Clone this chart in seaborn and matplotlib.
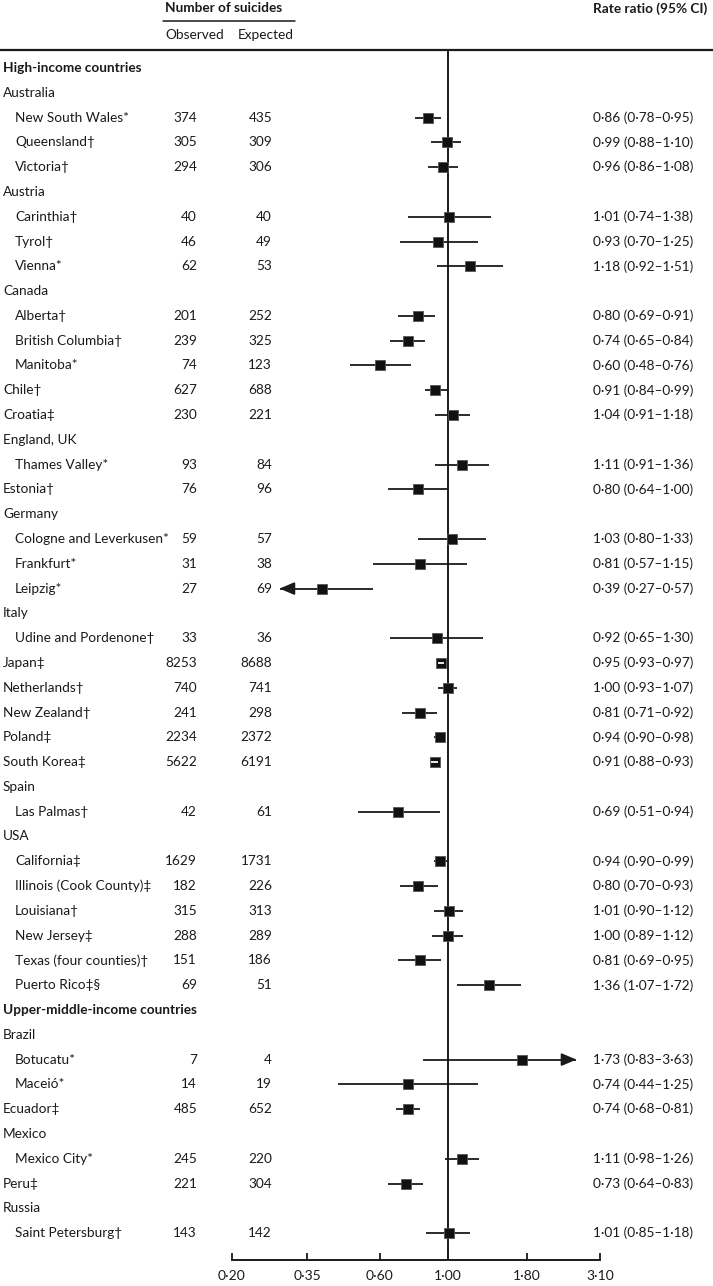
import matplotlib
matplotlib.use("Agg")
import matplotlib.pyplot as plt
import matplotlib.transforms as mtransforms
from matplotlib.lines import Line2D
import numpy as np
import pandas as pd
import seaborn as sns

# rows of the forest plot, top to bottom
labels = ["High-income countries", "Australia", "New South Wales*", "Queensland†", "Victoria†",
          "Austria", "Carinthia†", "Tyrol†", "Vienna*", "Canada", "Alberta†", "British Columbia†",
          "Manitoba*", "Chile†", "Croatia‡", "England, UK", "Thames Valley*", "Estonia†", "Germany",
          "Cologne and Leverkusen*", "Frankfurt*", "Leipzig*", "Italy", "Udine and Pordenone†",
          "Japan‡", "Netherlands†", "New Zealand†", "Poland‡", "South Korea‡", "Spain", "Las Palmas†",
          "USA", "California‡", "Illinois (Cook County)‡", "Louisiana†", "New Jersey‡",
          "Texas (four counties)†", "Puerto Rico‡§", "Upper-middle-income countries", "Brazil",
          "Botucatu*", "Maceió*", "Ecuador‡", "Mexico", "Mexico City*", "Peru‡", "Russia",
          "Saint Petersburg†"]
# 0 = income group, 1 = country, 2 = region within country
levels = [0, 1, 2, 2, 2, 1, 2, 2, 2, 1, 2, 2, 2, 1, 1, 1, 2, 1, 1, 2, 2, 2, 1, 2,
          1, 1, 1, 1, 1, 1, 2, 1, 2, 2, 2, 2, 2, 2, 0, 1, 2, 2, 1, 1, 2, 1, 1, 2]
observed = [None, None, 374, 305, 294, None, 40, 46, 62, None, 201, 239, 74, 627, 230, None, 93, 76,
            None, 59, 31, 27, None, 33, 8253, 740, 241, 2234, 5622, None, 42, None, 1629, 182, 315,
            288, 151, 69, None, None, 7, 14, 485, None, 245, 221, None, 143]
expected = [None, None, 435, 309, 306, None, 40, 49, 53, None, 252, 325, 123, 688, 221, None, 84, 96,
            None, 57, 38, 69, None, 36, 8688, 741, 298, 2372, 6191, None, 61, None, 1731, 226, 313,
            289, 186, 51, None, None, 4, 19, 652, None, 220, 304, None, 142]
rate_ratio = [None, None, 0.86, 0.99, 0.96, None, 1.01, 0.93, 1.18, None, 0.80, 0.74, 0.60, 0.91, 1.04,
              None, 1.11, 0.80, None, 1.03, 0.81, 0.39, None, 0.92, 0.95, 1.00, 0.81, 0.94, 0.91, None,
              0.69, None, 0.94, 0.80, 1.01, 1.00, 0.81, 1.36, None, None, 1.73, 0.74, 0.74, None, 1.11,
              0.73, None, 1.01]
ci_low = [None, None, 0.78, 0.88, 0.86, None, 0.74, 0.70, 0.92, None, 0.69, 0.65, 0.48, 0.84, 0.91,
          None, 0.91, 0.64, None, 0.80, 0.57, 0.27, None, 0.65, 0.93, 0.93, 0.71, 0.90, 0.88, None,
          0.51, None, 0.90, 0.70, 0.90, 0.89, 0.69, 1.07, None, None, 0.83, 0.44, 0.68, None, 0.98,
          0.64, None, 0.85]
ci_high = [None, None, 0.95, 1.10, 1.08, None, 1.38, 1.25, 1.51, None, 0.91, 0.84, 0.76, 0.99, 1.18,
           None, 1.36, 1.00, None, 1.33, 1.15, 0.57, None, 1.30, 0.97, 1.07, 0.92, 0.98, 0.93, None,
           0.94, None, 0.99, 0.93, 1.12, 1.12, 0.95, 1.72, None, None, 3.63, 1.25, 0.81, None, 1.26,
           0.83, None, 1.18]
xticks = [0.20, 0.35, 0.60, 1.00, 1.80, 3.10]
xtick_labels = ["0·20", "0·35", "0·60", "1·00", "1·80", "3·10"]

df = pd.DataFrame({"label": labels, "level": levels, "obs": observed, "exp": expected,
                   "rr": rate_ratio, "lo": ci_low, "hi": ci_high})
df["row"] = np.arange(len(df))

sns.set_theme(style="white")
plt.rcParams["font.family"] = ["Lato", "DejaVu Sans"]

W, H = 713, 1286
fig = plt.figure(figsize=(W / 100, H / 100), dpi=100)
row0, step = 68, 24.79
top_px, axis_px = 50, 1260
x0_px, x1_px = 232, 600
ax = fig.add_axes([x0_px / W, 1 - axis_px / H, (x1_px - x0_px) / W, (axis_px - top_px) / H])
ax.set_xscale("log")
ax.set_xlim(0.2, 3.1)
ax.set_ylim((axis_px - row0) / step, (top_px - row0) / step)
ax.set_facecolor("none")

ink = "#1a1a1a"
clip_lo, clip_hi = 0.285, 2.6
pts = df.dropna(subset=["rr"])

ax.axvline(1.0, color=ink, lw=1.4, zorder=1)
for _, r in pts.iterrows():
    lo, hi = r["lo"], r["hi"]
    if lo < clip_lo:
        ax.hlines(r["row"], clip_lo, hi, color=ink, lw=1.3, zorder=2)
        ax.annotate("", xy=(clip_lo, r["row"]), xytext=(clip_lo * 1.06, r["row"]),
                    arrowprops=dict(arrowstyle="-|>,head_length=0.75,head_width=0.32",
                                    color=ink, lw=1.3, shrinkA=0, shrinkB=0))
    elif hi > clip_hi:
        ax.hlines(r["row"], lo, clip_hi, color=ink, lw=1.3, zorder=2)
        ax.annotate("", xy=(clip_hi, r["row"]), xytext=(clip_hi / 1.06, r["row"]),
                    arrowprops=dict(arrowstyle="-|>,head_length=0.75,head_width=0.32",
                                    color=ink, lw=1.3, shrinkA=0, shrinkB=0))
    else:
        ax.hlines(r["row"], lo, hi, color=ink, lw=1.3, zorder=2)

sns.scatterplot(data=pts, x="rr", y="row", marker="s", s=55, color="#111111",
                edgecolor="#555555", linewidth=0.6, ax=ax, zorder=3, legend=False)
# narrow intervals sit inside the square and show as a white bar
narrow = pts[pts["hi"] / pts["lo"] < 1.07]
ax.hlines(narrow["row"], narrow["lo"], narrow["hi"], color="white", lw=1.3, zorder=4)

for s in ["top", "left", "right"]:
    ax.spines[s].set_visible(False)
ax.spines["bottom"].set_color(ink)
ax.spines["bottom"].set_linewidth(1.4)
ax.set_xticks(xticks)
ax.set_xticklabels(xtick_labels)
ax.xaxis.set_minor_locator(matplotlib.ticker.NullLocator())
ax.tick_params(axis="x", direction="in", length=5, width=1.3, color=ink, pad=7,
               labelsize=10, labelcolor=ink, bottom=True)
ax.set_yticks([])
ax.set_xlabel("")
ax.set_ylabel("")

# text columns
trans = mtransforms.blended_transform_factory(fig.transFigure, ax.transData)
fs = 9.8
for _, r in df.iterrows():
    xl = 15 if r["level"] == 2 else 3
    ax.text(xl / W, r["row"], r["label"], transform=trans, ha="left", va="center", fontsize=fs,
            color=ink, fontweight="bold" if r["level"] == 0 else "normal", clip_on=False)
    if pd.notna(r["rr"]):
        ax.text(197 / W, r["row"], f"{int(r['obs'])}", transform=trans, ha="right", va="center",
                fontsize=fs, color=ink, clip_on=False)
        ax.text(272 / W, r["row"], f"{int(r['exp'])}", transform=trans, ha="right", va="center",
                fontsize=fs, color=ink, clip_on=False)
        txt = f"{r['rr']:.2f} ({r['lo']:.2f}–{r['hi']:.2f})".replace(".", "·")
        ax.text(593 / W, r["row"], txt, transform=trans, ha="left", va="center",
                fontsize=fs, color=ink, clip_on=False)

# header
fig.text(165 / W, 1 - 8 / H, "Number of suicides", ha="left", va="center", fontsize=fs,
         fontweight="bold", color=ink)
fig.text(593 / W, 1 - 9 / H, "Rate ratio (95% CI)", ha="left", va="center", fontsize=fs,
         fontweight="bold", color=ink)
fig.text(165 / W, 1 - 35 / H, "Observed", ha="left", va="center", fontsize=fs, color=ink)
fig.text(238 / W, 1 - 35 / H, "Expected", ha="left", va="center", fontsize=fs, color=ink)
fig.add_artist(Line2D([163 / W, 295 / W], [1 - 21 / H] * 2, color=ink, lw=1.1))
fig.add_artist(Line2D([0, 1], [1 - top_px / H] * 2, color=ink, lw=1.6))

fig.savefig("out.png", dpi=100, facecolor="white")
